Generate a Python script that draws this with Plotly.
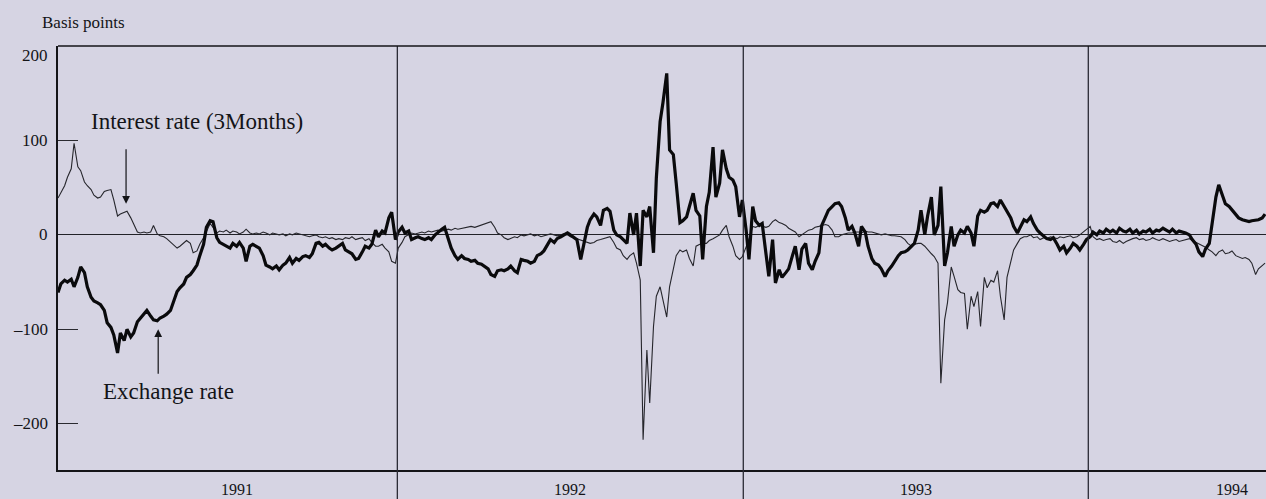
import pandas as pd
import plotly.graph_objects as go

# Twice-weekly observations (Mondays and Thursdays) starting 7 Jan 1991, basis points
start_date = "1991-01-07"

exchange_rate = [
    -61, -52, -48, -50, -47, -55, -45, -34, -40, -55,
    -66, -70, -72, -74, -80, -93, -98, -106, -125, -104,
    -112, -100, -108, -104, -92, -88, -84, -80, -86, -90,
    -91, -88, -86, -84, -80, -72, -60, -56, -52, -45,
    -42, -38, -32, -22, -10, 8, 15, 14, -3, -8,
    -10, -12, -14, -9, -12, -8, -14, -28, -12, -10,
    -12, -14, -22, -32, -34, -36, -33, -37, -32, -30,
    -24, -30, -25, -27, -23, -22, -24, -20, -9, -8,
    -12, -10, -14, -16, -14, -12, -9, -16, -18, -20,
    -26, -25, -18, -12, -14, -10, 5, -2, 4, 2,
    18, 24, -5, 3, 8, 2, 4, -5, -3, -2,
    -4, -5, -3, -5, 0, 3, 6, 8, -4, -14,
    -22, -26, -22, -25, -26, -28, -27, -30, -31, -33,
    -36, -42, -44, -38, -37, -38, -36, -33, -38, -40,
    -26, -27, -28, -30, -28, -22, -20, -17, -10, -5,
    -8, -4, -2, 0, 2, 0, -3, -5, -26, -10,
    8, 16, 22, 19, 10, 26, 28, 25, 5, 0,
    -2, -5, -9, 23, 0, 23, -33, 26, 19, 30,
    -19, 60, 120, 140, 171, 90, 85, 55, 13, 15,
    19, 30, 44, 26, 20, -26, 30, 45, 93, 40,
    55, 90, 70, 61, 58, 51, 19, 37, 5, -26,
    30, 15, 10, 12, -20, -44, -5, -51, -37, -45,
    -40, -36, -22, -12, -37, -15, -9, -30, -37, -28,
    -19, 10, 19, 26, 30, 33, 34, 30, 18, 5,
    9, 2, -12, 9, 3, -12, -25, -30, -32, -36,
    -44, -38, -33, -28, -22, -19, -18, -16, -12, -9,
    5, 26, 0, 20, 40, 0, 10, 51, -33, -19,
    9, -12, 0, 5, 2, 9, 2, -12, 20, 26,
    24, 26, 33, 34, 30, 37, 30, 25, 18, 9,
    2, 8, 16, 14, 19, 12, 5, 2, -2, -4,
    -5, -3, -10, -16, -12, -19, -14, -9, -12, -16,
    -10, -5, -2, 3, 0, 4, 2, 6, 3, 5,
    2, 7, 4, 3, 6, 2, 5, 1, 4, 3,
    6, 2, 5, 4, 7, 5, 3, 6, 2, 4,
    3, 2, 0, -5, -10, -18, -23, -15, -9, 12,
    40, 53, 42, 33, 30, 26, 22, 18, 16, 15,
    14, 15, 16, 16, 18, 22,
]

interest_rate_3m = [
    39, 45, 52, 61, 70, 97, 72, 68, 56, 52,
    48, 42, 39, 40, 46, 47, 48, 37, 20, 22,
    24, 25, 18, 12, 3, 2, 3, 2, 3, 10,
    1, -1, -2, -4, -8, -10, -14, -12, -9, -6,
    -9, -19, -17, -10, -3, 3, 12, 8, 2, 4,
    3, 5, 2, 4, 3, 1, 3, 6, 2, 1,
    2, 1, 3, 2, 0, 2, 1, 0, 1, -1,
    1, 0, 2, 1, 0, -1, -2, -1, 0, -2,
    -3, -2, -4, -3, -5, -4, -5, -3, -4, -2,
    -5, -4, -3, -6, -4, -8, -12, -12, -10, -14,
    -18, -28, -30, -14, -8, -2, 0, 2, 1, 2,
    3, 2, 4, 3, 4, 5, 4, 5, 6, 5,
    7, 6, 7, 7, 8, 9, 8, 9, 10, 11,
    13, 14, 8, 2, 0, -3, -5, -4, -2, -3,
    0, -1, 0, 1, -1, 0, -2, -1, 0, 1,
    0, -1, 0, 1, 0, -2, -3, -4, -5, -6,
    -8, -9, -8, -6, -5, -4, -3, -2, -8, -14,
    -16, -22, -26, -22, -19, -30, -48, -217, -122, -178,
    -97, -65, -55, -69, -87, -55, -35, -22, -16, -18,
    -16, -25, -33, -12, -10, -9, -9, -6, -4, -2,
    0, 5, 10, -2, -12, -22, -26, -23, -12, -5,
    9, 8, 10, 9, 8, 9, 14, 16, 13, 12,
    10, 7, 5, 3, -2, 0, 3, 5, 6, 8,
    9, 10, 11, 10, 5, -2, -2, 0, 1, 2,
    2, 3, 3, 2, 4, 3, 3, 2, 1, 0,
    1, 0, -1, -1, -2, -2, -5, -9, -12, -10,
    -9, -9, -12, -16, -20, -23, -30, -157, -90, -72,
    -34, -44, -58, -61, -62, -100, -65, -76, -60, -97,
    -45, -56, -48, -50, -38, -65, -90, -45, -30, -16,
    -9, -4, -2, -2, 0, -3, -2, -5, -3, -4,
    -2, -3, -4, -2, -3, -2, -1, -3, -2, 0,
    3, 6, 9, -2, -5, -4, -6, -5, -4, -7,
    -8, -6, -9, -7, -5, -4, -3, -5, -4, -6,
    -5, -3, -5, -6, -4, -5, -7, -6, -5, -7,
    -6, -5, -4, -6, -8, -10, -12, -13, -16, -18,
    -22, -18, -16, -20, -19, -17, -22, -23, -25, -24,
    -26, -30, -42, -36, -33, -30,
]

year_starts = ["1992-01-01", "1993-01-01", "1994-01-01"]
year_labels = ["1991", "1992", "1993", "1994"]
year_label_dates = ["1991-07-15", "1992-07-02", "1993-07-03", "1994-06-02"]
y_tick_values = [200, 100, 0, -100, -200]
y_tick_texts = ["200", "100", "0", "\u2013100", "\u2013200"]


def obs_dates(n):
    return pd.bdate_range(start=start_date, periods=n, freq="C", weekmask="Mon Thu")


BG = "#d6d4e3"
INK = "#141418"
SERIF = "Liberation Serif, Times New Roman, serif"

fig = go.Figure()
fig.add_trace(go.Scatter(
    x=obs_dates(len(interest_rate_3m)), y=interest_rate_3m, mode="lines",
    line=dict(color="#26262c", width=1.1), name="Interest rate (3Months)",
))
fig.add_trace(go.Scatter(
    x=obs_dates(len(exchange_rate)), y=exchange_rate, mode="lines",
    line=dict(color="#0a0a0c", width=3.2), name="Exchange rate",
))

# Year separators, running below the axis between the year labels
for d in year_starts:
    fig.add_shape(type="line", xref="x", yref="paper", x0=d, x1=d, y0=-0.075, y1=1,
                  line=dict(color="#2a2a34", width=1.3), layer="above")
# Top frame line
fig.add_shape(type="line", xref="paper", yref="paper", x0=0, x1=1, y0=1, y1=1,
              line=dict(color=INK, width=1.5))

annotations = []
for v, t in zip(y_tick_values, y_tick_texts):
    annotations.append(dict(
        x=0, xref="paper", y=v, yref="y", text=t, showarrow=False,
        xanchor="right", yanchor="middle", xshift=-8, yshift=-9 if v == 200 else 0,
        font=dict(family=SERIF, size=17, color=INK),
    ))
for d, t in zip(year_label_dates, year_labels):
    annotations.append(dict(
        x=d, xref="x", y=-0.046, yref="paper", text=t, showarrow=False,
        xanchor="center", yanchor="middle",
        font=dict(family=SERIF, size=16, color=INK),
    ))
annotations += [
    dict(x=-0.0149, xref="paper", y=1.056, yref="paper", text="Basis points",
         showarrow=False, xanchor="left", yanchor="middle",
         font=dict(family=SERIF, size=17, color=INK)),
    dict(x="1991-02-09", xref="x", y=120, yref="y", text="Interest rate (3Months)",
         showarrow=False, xanchor="left", yanchor="middle",
         font=dict(family=SERIF, size=23, color=INK)),
    dict(x="1991-02-21", xref="x", y=-166, yref="y", text="Exchange rate",
         showarrow=False, xanchor="left", yanchor="middle",
         font=dict(family=SERIF, size=23, color=INK)),
    dict(x="1991-03-20", xref="x", y=33, yref="y", text="", showarrow=True,
         ax=0, ay=-56, arrowhead=2, arrowsize=1.3, arrowwidth=1.2, arrowcolor=INK),
    dict(x="1991-04-23", xref="x", y=-100, yref="y", text="", showarrow=True,
         ax=0, ay=46, arrowhead=2, arrowsize=1.3, arrowwidth=1.2, arrowcolor=INK),
]

fig.update_layout(
    width=1266, height=499,
    margin=dict(l=58, r=0, t=46, b=29),
    paper_bgcolor=BG, plot_bgcolor=BG,
    showlegend=False,
    annotations=annotations,
    xaxis=dict(
        type="date", range=["1991-01-07", "1994-07-08"],
        showgrid=False, zeroline=False, showticklabels=False, ticks="",
        showline=True, linecolor=INK, linewidth=1.5,
    ),
    yaxis=dict(
        range=[-249, 200], showgrid=False,
        zeroline=True, zerolinecolor="#222228", zerolinewidth=1.4,
        tickmode="array", tickvals=[-200, -100, 100], showticklabels=False,
        ticks="inside", ticklen=20, tickwidth=1.2, tickcolor="#2a2a30",
        showline=True, linecolor=INK, linewidth=1.5,
    ),
)

fig.write_html("out.html")
